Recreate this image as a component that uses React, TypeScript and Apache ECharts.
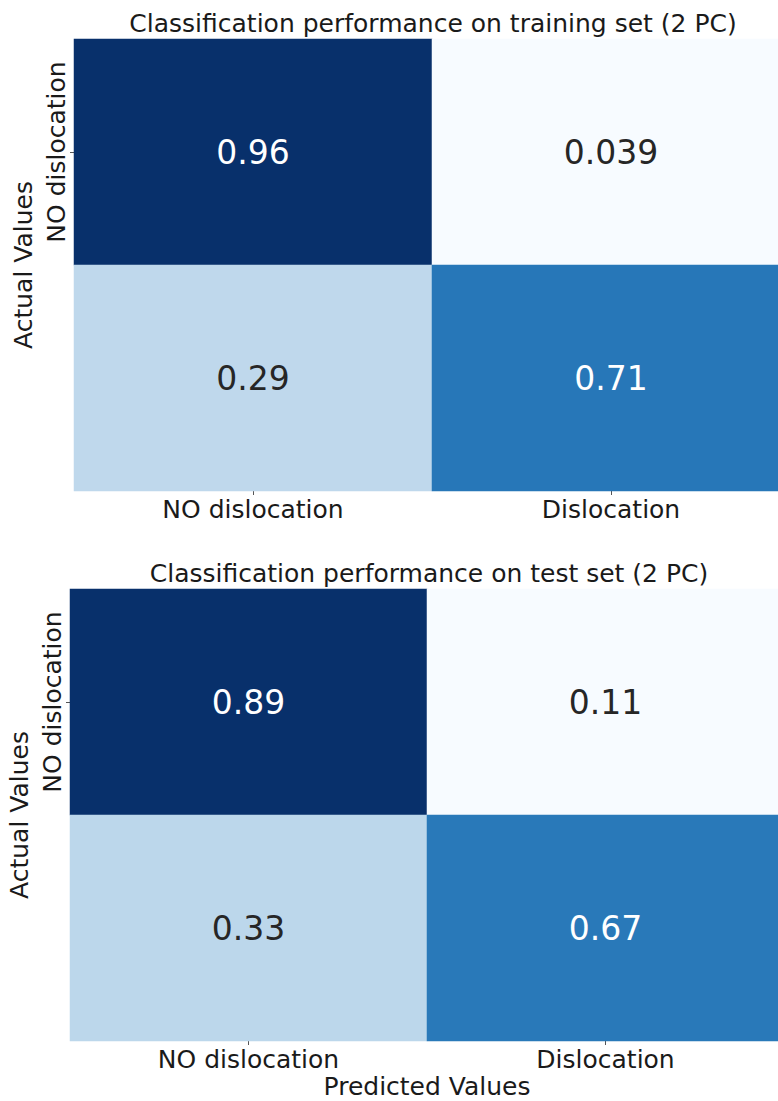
import React, { useEffect, useRef } from "react";
import * as echarts from "echarts";

const categories = ["NO dislocation", "Dislocation"];
const trainValues = [
  [0.96, 0.039],
  [0.29, 0.71],
];
const testValues = [
  [0.89, 0.11],
  [0.33, 0.67],
];
const titles = [
  "Classification performance on training set (2 PC)",
  "Classification performance on test set (2 PC)",
];
const blues = ["#f7fbff", "#deebf7", "#c6dbef", "#9ecae1", "#6baed6", "#4292c6", "#2171b5", "#08519c", "#08306b"];

const FONT = "DejaVu Sans";

function toData(m: number[][]) {
  const out: any[] = [];
  const flat = m.flat();
  const mn = Math.min(...flat);
  const mx = Math.max(...flat);
  m.forEach((row, r) =>
    row.forEach((v, c) => {
      const t = (v - mn) / (mx - mn);
      out.push({
        value: [c, r, v],
        label: { color: t > 0.5 ? "#ffffff" : "#262626" },
      });
    })
  );
  return { data: out, mn, mx };
}

export default function App() {
  const ref = useRef<HTMLDivElement>(null);
  useEffect(() => {
    document.body.style.margin = "0";
    const chart = echarts.init(ref.current!, null, { renderer: "svg" });
    const d1 = toData(trainValues);
    const d2 = toData(testValues);
    const grids = [
      { left: 74, top: 39, width: 716, height: 452, outerBoundsMode: "none", containLabel: false },
      { left: 70, top: 589, width: 714, height: 452, outerBoundsMode: "none", containLabel: false },
    ];
    const xAxis = grids.map((_, i) => ({
      type: "category",
      gridIndex: i,
      data: categories,
      axisLine: { show: false },
      axisTick: { show: true, alignWithLabel: true, length: 4, lineStyle: { color: "#555" } },
      axisLabel: { fontSize: 25, fontFamily: FONT, color: "#1a1a1a", margin: 6 },
      splitLine: { show: false },
      name: i === 1 ? "Predicted Values" : "",
      nameLocation: "middle",
      nameGap: 33,
      nameTextStyle: { fontSize: 25, fontFamily: FONT, color: "#1a1a1a" },
    }));
    const yAxis = grids.map((_, i) => ({
      type: "category",
      gridIndex: i,
      data: categories,
      inverse: true,
      axisLine: { show: false },
      axisTick: { show: true, alignWithLabel: true, length: 4, lineStyle: { color: "#555" } },
      axisLabel: { fontSize: 25, fontFamily: FONT, color: "#1a1a1a", rotate: 90, margin: 5 },
      splitLine: { show: false },
      name: "Actual Values",
      nameLocation: "middle",
      nameRotate: 90,
      nameGap: 31,
      nameTextStyle: { fontSize: 25, fontFamily: FONT, color: "#1a1a1a" },
    }));
    chart.setOption({
      animation: false,
      backgroundColor: "#ffffff",
      title: [
        { text: titles[0], left: 428, top: 6, textAlign: "center", textStyle: { fontSize: 25, fontWeight: "normal", fontFamily: FONT, color: "#1a1a1a" } },
        { text: titles[1], left: 424, top: 556, textAlign: "center", textStyle: { fontSize: 25, fontWeight: "normal", fontFamily: FONT, color: "#1a1a1a" } },
      ],
      grid: grids,
      xAxis,
      yAxis,
      visualMap: [
        { type: "continuous", min: d1.mn, max: d1.mx, seriesIndex: 0, show: false, inRange: { color: blues } },
        { type: "continuous", min: d2.mn, max: d2.mx, seriesIndex: 1, show: false, inRange: { color: blues } },
      ],
      series: [d1, d2].map((d, i) => ({
        type: "heatmap",
        xAxisIndex: i,
        yAxisIndex: i,
        data: d.data,
        label: {
          show: true,
          fontSize: 33,
          fontFamily: FONT,
          formatter: (p: any) => String(p.value[2]),
        },
        itemStyle: { borderWidth: 0 },
        emphasis: { disabled: true },
      })),
    });
    return () => chart.dispose();
  }, []);
  return <div ref={ref} style={{ width: 778, height: 1101 }} />;
}
